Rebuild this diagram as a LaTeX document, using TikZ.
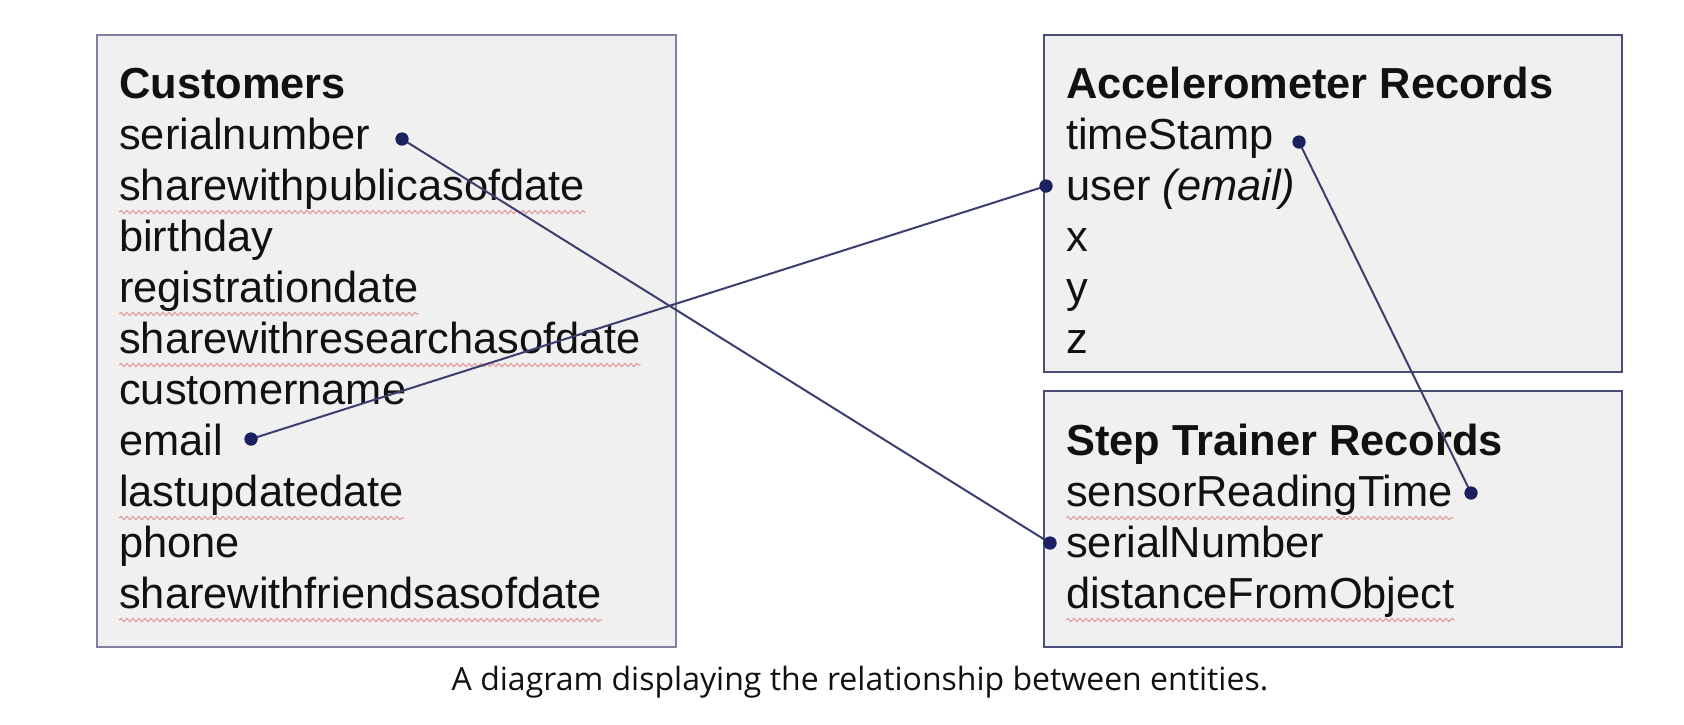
\documentclass[tikz,border=0pt]{standalone}
\usepackage{fontspec}
\setmainfont{Liberation Sans}
\newfontfamily\capfont{Open Sans}
\usetikzlibrary{decorations.pathmorphing}
\definecolor{boxfill}{HTML}{F0F0F0}
\definecolor{custedge}{HTML}{8080A0}
\definecolor{recedge}{HTML}{4A4D78}
\definecolor{txt}{HTML}{111111}
\definecolor{spell}{HTML}{E49C9C}
\definecolor{linec}{HTML}{3B3E6E}
\definecolor{dotc}{HTML}{1B2160}
\begin{document}
\begin{tikzpicture}[x=1pt,y=-1pt,
  entity/.style={fill=boxfill, line width=2.3pt, anchor=north west, inner sep=0pt},
  field/.style={anchor=base west, inner sep=0pt, font=\fontsize{43.4}{51}\selectfont, text=txt},
  heading/.style={anchor=base west, inner sep=0pt, font=\fontsize{43.4}{51}\selectfont\bfseries, text=txt},
  wavy/.style={draw=spell, line width=1.2pt, decorate, decoration={snake, segment length=6pt, amplitude=1.6pt}},
  dot/.style={circle, fill=dotc, inner sep=0pt, minimum size=13pt},
  link/.style={draw=linec, line width=2pt}]
\useasboundingbox (0,0) rectangle (1684,724);

% boxes
\node[entity, draw=custedge, minimum width=579pt, minimum height=612pt] (cbox) at (95.5,33.5) {};
\node[entity, draw=recedge, minimum width=578pt, minimum height=337pt] (abox) at (1043,33.5) {};
\node[entity, draw=recedge, minimum width=578pt, minimum height=256pt] (sbox) at (1043,390) {};

% Customers
\node[heading] (ct) at (119,98) {Customers};
\node[field] (c1) at (119,149) {serialnumber};
\node[field] (c2) at (119,200) {sharewithpublicasofdate};
\node[field] (c3) at (119,251) {birthday};
\node[field] (c4) at (119,302) {registrationdate};
\node[field] (c5) at (119,353) {sharewithresearchasofdate};
\node[field] (c6) at (119,404) {customername};
\node[field] (c7) at (119,455) {email};
\node[field] (c8) at (119,506) {lastupdatedate};
\node[field] (c9) at (119,557) {phone};
\node[field] (c10) at (119,608) {sharewithfriendsasofdate};

% Accelerometer
\node[heading] (at) at (1066,98) {Accelerometer Records};
\node[field] (a1) at (1066,149) {timeStamp};
\node[field] (a2) at (1066,200) {user \textit{(email)}};
\node[field] (a3) at (1066,251) {x};
\node[field] (a4) at (1066,302) {y};
\node[field] (a5) at (1066,353) {z};

% Step trainer
\node[heading] (st) at (1066,455) {Step Trainer Records};
\node[field] (s1) at (1066,506) {sensorReadingTime};
\node[field] (s2) at (1066,557) {serialNumber};
\node[field] (s3) at (1066,608) {distanceFromObject};

% spell-check underlines
\foreach \n in {c2,c4,c5,c8,c10,s1,s3}
  \draw[wavy] ([yshift=-12pt]\n.base west) -- ([yshift=-12pt]\n.base east);

% caption
\node[anchor=base, inner sep=0pt, font=\capfont\fontsize{32}{38}\selectfont, text=txt] (cap) at (860,690)
  {A diagram displaying the relationship between entities.};

% dots
\node[dot] (d1) at (402,139) {};
\node[dot] (d2) at (1050,543) {};
\node[dot] (d3) at (251,439) {};
\node[dot] (d4) at (1046,186) {};
\node[dot] (d5) at (1299,142) {};
\node[dot] (d6) at (1471,493) {};

% links
\draw[link] (d1.center) -- (d2.center);
\draw[link] (d3.center) -- (d4.center);
\draw[link] (d5.center) -- (d6.center);
\foreach \n in {d1,d2,d3,d4,d5,d6} \node[dot] at (\n) {};
\end{tikzpicture}
\end{document}
